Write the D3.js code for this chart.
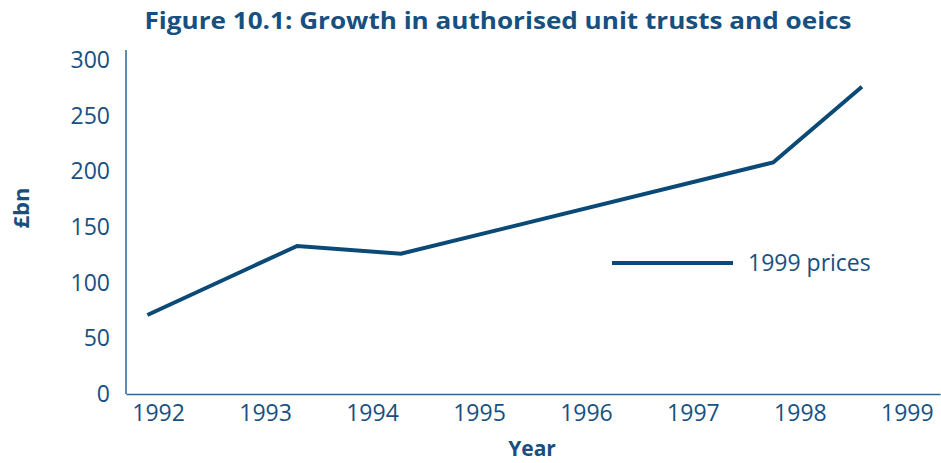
<!DOCTYPE html>
<html><head><meta charset="utf-8">
<script src="https://cdn.jsdelivr.net/npm/d3@7/dist/d3.min.js"></script>
<style>body{margin:0;background:#fff;} svg{display:block;font-family:"Open Sans",sans-serif;}</style>
</head><body>
<svg id="chart" width="941" height="463"></svg>
<script>
const years = [1992, 1993, 1994, 1995, 1996, 1997, 1998, 1999];
const yTicks = [0, 50, 100, 150, 200, 250, 300];
const pointYears = [1991.9, 1993.3, 1994.27, 1997.75, 1998.58];
const pointValues = [71, 133, 126, 208, 276];
const seriesName = "1999 prices";

const textColor = "#17507f", lineColor = "#0b4977", axisColor = "#2d6595";
const svg = d3.select("#chart");
const x = d3.scaleLinear().domain([1991.7, 1999.31]).range([126, 940]);
const y = d3.scaleLinear().domain([0, 300]).range([394, 60]);

svg.append("text").attr("x", 498).attr("y", 29).attr("text-anchor", "middle")
  .attr("font-weight", "bold").attr("font-size", 24).attr("fill", textColor)
  .attr("textLength", 707).attr("lengthAdjust", "spacingAndGlyphs")
  .text("Figure 10.1: Growth in authorised unit trusts and oeics");

const yAx = svg.append("g").attr("transform", "translate(126,0)")
  .call(d3.axisLeft(y).tickValues(yTicks).tickSize(0).tickPadding(16));
yAx.select(".domain").attr("stroke", axisColor).attr("stroke-width", 1.5).attr("d", "M0,50V394");
yAx.selectAll("text").attr("font-size", 23).attr("fill", textColor).attr("font-family", "Open Sans");

const xAx = svg.append("g").attr("transform", "translate(0,394)")
  .call(d3.axisBottom(x).tickValues(years).tickFormat(d3.format("d")).tickSize(0).tickPadding(11));
xAx.select(".domain").attr("stroke", axisColor).attr("stroke-width", 1.5);
xAx.selectAll("text").attr("font-size", 23).attr("fill", textColor).attr("font-family", "Open Sans");

svg.append("text").attr("transform", "translate(29,208) rotate(-90)").attr("text-anchor", "middle")
  .attr("font-weight", "bold").attr("font-size", 22).attr("fill", textColor).text("£bn");
svg.append("text").attr("x", 532).attr("y", 456).attr("text-anchor", "middle")
  .attr("font-weight", "bold").attr("font-size", 21).attr("fill", textColor).text("Year");

const pts = pointYears.map((yr, i) => [yr, pointValues[i]]);
svg.append("path").datum(pts).attr("fill", "none").attr("stroke", lineColor).attr("stroke-width", 4)
  .attr("stroke-linejoin", "miter")
  .attr("d", d3.line().x(d => x(d[0])).y(d => y(d[1])));

svg.append("line").attr("x1", 612).attr("x2", 733).attr("y1", 263).attr("y2", 263)
  .attr("stroke", lineColor).attr("stroke-width", 4);
svg.append("text").attr("x", 748).attr("y", 263).attr("dy", "0.35em")
  .attr("font-size", 23).attr("fill", textColor).text(seriesName);
</script>
</body></html>
